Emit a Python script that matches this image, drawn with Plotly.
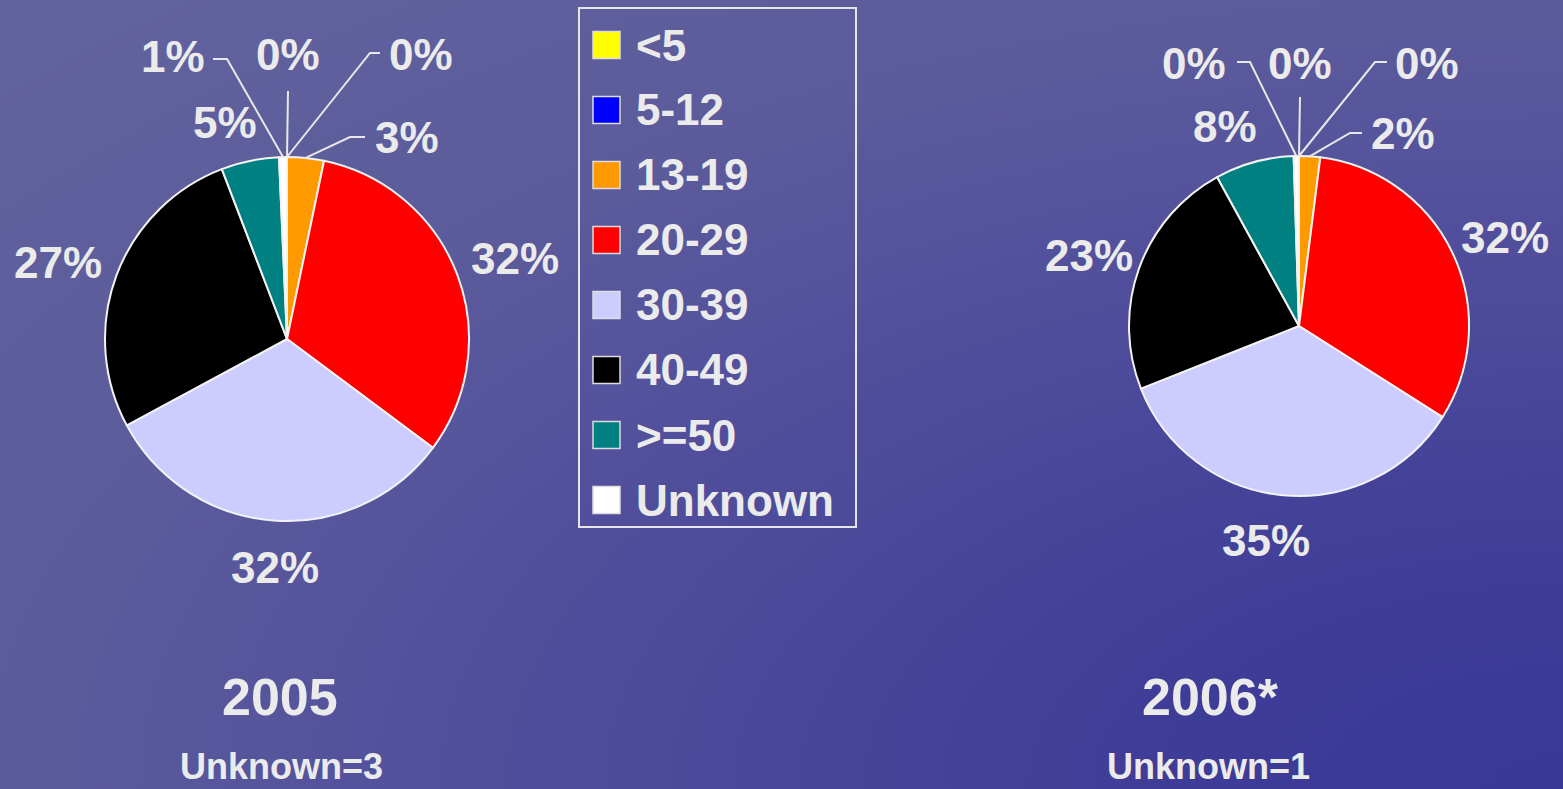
import math
import base64
import plotly.graph_objects as go

# ---------------- data ----------------
categories = ["<5", "5-12", "13-19", "20-29", "30-39", "40-49", ">=50", "Unknown"]
values_2005 = [0, 0, 14, 137, 137, 116, 22, 3]
values_2006 = [0, 0, 4, 64, 70, 46, 15, 1]
titles = ["2005", "2006*"]
subtitles = ["Unknown=3", "Unknown=1"]

# ---------------- style ----------------
colors = ["#ffff00", "#0000ff", "#ff9900", "#ff0000", "#ccccff", "#000000", "#008080", "#ffffff"]
W, H = 1563, 789
TXT = "#ebebeb"
FONT = "Liberation Sans, Arial, sans-serif"

pies = [
    dict(cx=287, cy=339, r=182, values=values_2005, title=titles[0], sub=subtitles[0],
         title_xy=(280, 697), sub_xy=(281, 766),
         # label offsets from the pie centre (dx, dy, anchor)
         labels=[(1, -284, "center"), (100, -284, "left"), (86, -202, "left"),
                 (228, -81, "center"), (-12, 228, "center"), (-229, -77, "center"),
                 (-62, -217, "center"), (-80, -282, "right")],
         leaders={0: [(1, -248)], 1: [(83, -286), (93, -286)],
                  2: [(63, -202), (78, -202)], 7: [(-60, -280), (-74, -280)]}),
    dict(cx=1299, cy=326, r=170, values=values_2006, title=titles[1], sub=subtitles[1],
         title_xy=(1210, 697), sub_xy=(1208, 766),
         labels=[(1, -262, "center"), (94, -262, "left"), (70, -193, "left"),
                 (206, -89, "center"), (-33, 214, "center"), (-210, -71, "center"),
                 (-74, -199, "center"), (-71, -262, "right")],
         leaders={0: [(1, -229)], 1: [(76, -264), (88, -264)],
                  2: [(51, -193), (63, -193)], 7: [(-49, -264), (-62, -264)]}),
]


def px(x):
    return x / W


def py(y):
    return 1 - y / H


fig = go.Figure()
annotations = []
shapes = []

for p in pies:
    cx, cy, r = p["cx"], p["cy"], p["r"]
    vals = p["values"]
    total = sum(vals)
    fig.add_trace(go.Pie(
        labels=categories, values=vals, sort=False, direction="clockwise", rotation=0,
        marker=dict(colors=colors, line=dict(color="#f2f2f2", width=2)),
        textinfo="none", hoverinfo="label+percent", showlegend=False,
        domain=dict(x=[px(cx - r), px(cx + r)], y=[py(cy + r), py(cy - r)]),
    ))
    cum = 0
    for i, v in enumerate(vals):
        mid = (cum + v / 2) / total * 2 * math.pi
        cum += v
        pct = round(v / total * 100)
        dx, dy, anchor = p["labels"][i]
        annotations.append(dict(
            x=px(cx + dx), y=py(cy + dy), xref="paper", yref="paper",
            text=f"<b>{pct}%</b>", showarrow=False, xanchor=anchor, yanchor="middle",
            font=dict(family=FONT, size=44, color=TXT)))
        if i in p["leaders"]:
            ex, ey = cx + r * math.sin(mid), cy - r * math.cos(mid)
            pts = [(ex, ey)] + [(cx + a, cy + b) for a, b in p["leaders"][i]]
            path = "M " + " L ".join(f"{px(x)},{py(y)}" for x, y in pts)
            shapes.append(dict(type="path", path=path, xref="paper", yref="paper",
                               line=dict(color="#e8e8e8", width=2)))
    annotations.append(dict(
        x=px(p["title_xy"][0]), y=py(p["title_xy"][1]), xref="paper", yref="paper",
        text=f"<b>{p['title']}</b>", showarrow=False, xanchor="center", yanchor="middle",
        font=dict(family=FONT, size=52, color=TXT)))
    annotations.append(dict(
        x=px(p["sub_xy"][0]), y=py(p["sub_xy"][1]), xref="paper", yref="paper",
        text=f"<b>{p['sub']}</b>", showarrow=False, xanchor="center", yanchor="middle",
        font=dict(family=FONT, size=36, color=TXT)))

# ---------------- manual legend ----------------
LEG_X0, LEG_Y0, LEG_X1, LEG_Y1 = 579, 8, 856, 527
ROW0, ROW_STEP, SQ = 45, 65, 27
shapes.append(dict(type="rect", xref="paper", yref="paper",
                   x0=px(LEG_X0), x1=px(LEG_X1), y0=py(LEG_Y1), y1=py(LEG_Y0),
                   line=dict(color="#e6e6e6", width=2), fillcolor="rgba(0,0,0,0)"))
for i, (cat, col) in enumerate(zip(categories, colors)):
    yc = ROW0 + ROW_STEP * i
    shapes.append(dict(type="rect", xref="paper", yref="paper",
                       x0=px(593), x1=px(593 + SQ), y0=py(yc + SQ / 2), y1=py(yc - SQ / 2),
                       line=dict(color="#dddddd", width=1.5), fillcolor=col))
    annotations.append(dict(
        x=px(634), y=py(yc), xref="paper", yref="paper", text=f"<b>{cat}</b>",
        showarrow=False, xanchor="left", yanchor="middle",
        font=dict(family=FONT, size=44, color=TXT)))

# ---------------- gradient background ----------------
svg = (f'<svg xmlns="http://www.w3.org/2000/svg" width="{W}" height="{H}" '
       f'viewBox="0 0 {W} {H}" preserveAspectRatio="none"><defs>'
       '<radialGradient id="g" cx="1" cy="1" r="1.414" fx="1" fy="1">'
       '<stop offset="0" stop-color="#383896"/>'
       '<stop offset="0.18" stop-color="#3e3c97"/>'
       '<stop offset="0.53" stop-color="#53519c"/>'
       '<stop offset="0.7" stop-color="#5c5b9b"/>'
       '<stop offset="1" stop-color="#63639f"/>'
       '</radialGradient></defs><rect width="100%" height="100%" fill="url(#g)"/></svg>')
bg_src = "data:image/svg+xml;base64," + base64.b64encode(svg.encode()).decode()

fig.update_layout(
    width=W, height=H,
    margin=dict(l=0, r=0, t=0, b=0),
    paper_bgcolor="#52519c", plot_bgcolor="rgba(0,0,0,0)",
    annotations=annotations, shapes=shapes,
    images=[dict(source=bg_src, xref="paper", yref="paper", x=0, y=1, sizex=1, sizey=1,
                 xanchor="left", yanchor="top", sizing="stretch", layer="below")],
)

fig.write_html(
    "out.html",
    config={"displayModeBar": False},
    post_script="document.body.style.margin='0';document.body.style.padding='0';"
                "document.body.style.overflow='hidden';document.body.style.background='#383896';",
)
